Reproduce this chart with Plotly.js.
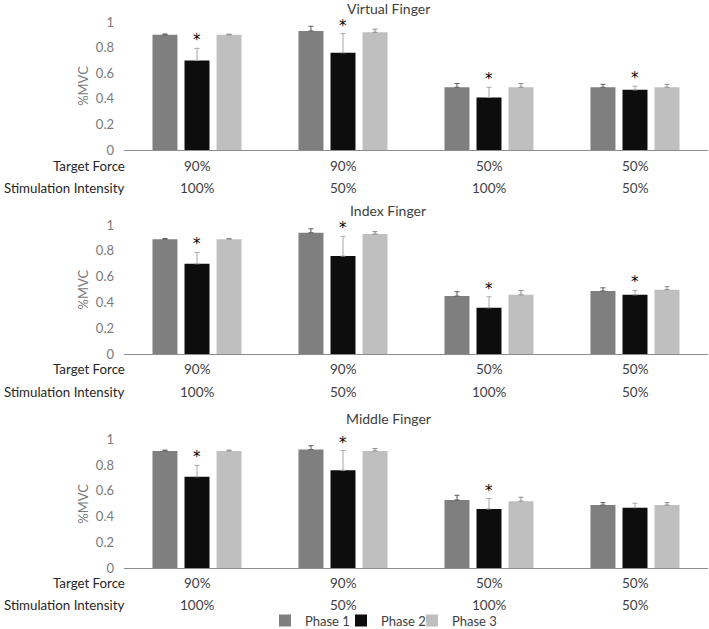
<!DOCTYPE html>
<html>
<head>
<meta charset="utf-8">
<script src="https://cdn.plot.ly/plotly-3.0.1.min.js"></script>
<style>html,body{margin:0;padding:0;background:#fff;}#chart{width:709px;height:629px;}</style>
</head>
<body>
<div id="chart"></div>
<script>
// ---- data ----
const panelTitles = ['Virtual Finger', 'Index Finger', 'Middle Finger'];
const phaseNames = ['Phase 1', 'Phase 2', 'Phase 3'];
const groupIndex = [0, 1, 2, 3];
const targetForce = ['90%', '90%', '50%', '50%'];
const stimIntensity = ['100%', '50%', '100%', '50%'];
const rowLabels = ['Target Force', 'Stimulation Intensity'];

// Virtual finger
const virtualP1 = [0.90, 0.93, 0.49, 0.49];
const virtualP1Err = [0.006, 0.037, 0.030, 0.023];
const virtualP2 = [0.70, 0.76, 0.41, 0.47];
const virtualP2Err = [0.094, 0.150, 0.080, 0.028];
const virtualP3 = [0.90, 0.92, 0.49, 0.49];
const virtualP3Err = [0.005, 0.024, 0.030, 0.023];
const virtualSig = [true, true, true, true];

// Index finger
const indexP1 = [0.89, 0.94, 0.45, 0.49];
const indexP1Err = [0.006, 0.031, 0.034, 0.024];
const indexP2 = [0.70, 0.76, 0.36, 0.46];
const indexP2Err = [0.088, 0.152, 0.085, 0.034];
const indexP3 = [0.89, 0.93, 0.46, 0.50];
const indexP3Err = [0.006, 0.019, 0.034, 0.023];
const indexSig = [true, true, true, true];

// Middle finger
const middleP1 = [0.91, 0.92, 0.53, 0.49];
const middleP1Err = [0.006, 0.030, 0.036, 0.019];
const middleP2 = [0.71, 0.76, 0.46, 0.47];
const middleP2Err = [0.088, 0.153, 0.081, 0.034];
const middleP3 = [0.91, 0.91, 0.52, 0.49];
const middleP3Err = [0.006, 0.018, 0.031, 0.019];
const middleSig = [true, true, true, false];

const panels = [
  {vals: [virtualP1, virtualP2, virtualP3], errs: [virtualP1Err, virtualP2Err, virtualP3Err], sig: virtualSig},
  {vals: [indexP1, indexP2, indexP3], errs: [indexP1Err, indexP2Err, indexP3Err], sig: indexSig},
  {vals: [middleP1, middleP2, middleP3], errs: [middleP1Err, middleP2Err, middleP3Err], sig: middleSig}
];

// ---- styling / layout ----
const W = 709, H = 629;
const barColors = ['#7f7f7f', '#0d0d0d', '#bfbfbf'];
const errColors = ['#5a5a5a', '#a8a8a8', '#8c8c8c'];
const FONT = 'Lato, "Open Sans", sans-serif';
const xLeft = 124, xRight = 708;
const yPix = [[22, 150], [225, 354.3], [439.3, 568.3]];       // top, bottom (y=1, y=0)
const titleY = [8, 210, 418];
const rowY = [[165.7, 187.7], [369.3, 392.3], [582.7, 605]];
const titleX = 388;
const legendX = [265, 341, 412];   // left edge of each legend entry box
const legendY = 620.5;

const px = v => v / W;
const py = v => 1 - v / H;

const traces = [];
const annotations = [];
const layout = {
  width: W, height: H,
  margin: {l: 0, r: 0, t: 0, b: 0, autoexpand: false},
  paper_bgcolor: '#ffffff', plot_bgcolor: '#ffffff',
  font: {family: FONT, size: 13, color: '#404040'},
  barmode: 'group',
  bargap: 0.342,
  bargroupgap: 0.22,
  showlegend: true,
  annotations: annotations
};
const legendIds = ['legend', 'legend2', 'legend3'];
legendIds.forEach((id, j) => {
  layout[id] = {
    orientation: 'h',
    x: px(legendX[j]), xanchor: 'left', y: py(legendY), yanchor: 'middle',
    font: {family: FONT, size: 13, color: '#404040'},
    itemwidth: 30, bgcolor: 'rgba(0,0,0,0)', borderwidth: 0
  };
});

panels.forEach((p, k) => {
  const sfx = k === 0 ? '' : String(k + 1);
  const xa = 'x' + sfx, ya = 'y' + sfx;
  layout['xaxis' + sfx] = {
    domain: [px(xLeft), px(xRight)], range: [-0.5, 3.5], anchor: ya,
    showticklabels: false, ticks: '', showgrid: false, zeroline: false,
    showline: true, linecolor: '#8c8c8c', linewidth: 1, fixedrange: true
  };
  layout['yaxis' + sfx] = {
    domain: [py(yPix[k][1]), py(yPix[k][0])], range: [0, 1], anchor: xa,
    tickvals: [0, 0.2, 0.4, 0.6, 0.8, 1], ticktext: ['0', '0.2', '0.4', '0.6', '0.8', '1'],
    ticks: '', showgrid: false, zeroline: false, showline: false,
    ticklabelstandoff: 9,
    tickfont: {family: FONT, size: 13, color: '#7a7a7a'},
    title: {text: '%MVC', font: {family: FONT, size: 13, color: '#7a7a7a'}, standoff: 4},
    fixedrange: true
  };
  for (let j = 0; j < 3; j++) {
    traces.push({
      type: 'bar', x: groupIndex, y: p.vals[j], xaxis: xa, yaxis: ya,
      name: phaseNames[j], legendgroup: phaseNames[j], legend: legendIds[j], showlegend: k === 0,
      marker: {color: barColors[j], line: {width: 0}},
      error_y: {type: 'data', array: p.errs[j], symmetric: false, arrayminus: p.errs[j].map(() => 0),
                color: errColors[j], thickness: 1, width: 2.5},
      hoverinfo: 'skip'
    });
  }
  // asterisks above phase 2 error bars
  p.sig.forEach((s, i) => {
    if (!s) return;
    annotations.push({
      xref: xa, yref: ya, x: groupIndex[i], y: p.vals[1][i] + p.errs[1][i],
      yanchor: 'bottom', xanchor: 'center', showarrow: false, yshift: -3,
      text: '*', font: {family: 'DejaVu Sans, sans-serif', size: 15, color: '#000000'}
    });
  });
  // panel title
  annotations.push({
    xref: 'paper', yref: 'paper', x: px(titleX), y: py(titleY[k]), xanchor: 'center', yanchor: 'middle',
    showarrow: false, text: panelTitles[k], font: {family: FONT, size: 14, color: '#404040'}
  });
  // row labels and values
  const rows = [targetForce, stimIntensity];
  rows.forEach((vals, r) => {
    annotations.push({
      xref: 'paper', yref: 'paper', x: px(127), y: py(rowY[k][r]), xanchor: 'right', yanchor: 'middle',
      showarrow: false, text: rowLabels[r], font: {family: FONT, size: 13.3, color: '#262626'}
    });
    vals.forEach((v, i) => {
      annotations.push({
        xref: xa, yref: 'paper', x: groupIndex[i], y: py(rowY[k][r]), xanchor: 'center', yanchor: 'middle',
        showarrow: false, text: v, font: {family: FONT, size: 13.5, color: '#404040'}
      });
    });
  });
});

Plotly.newPlot('chart', traces, layout, {displayModeBar: false, staticPlot: true});
</script>
</body>
</html>
